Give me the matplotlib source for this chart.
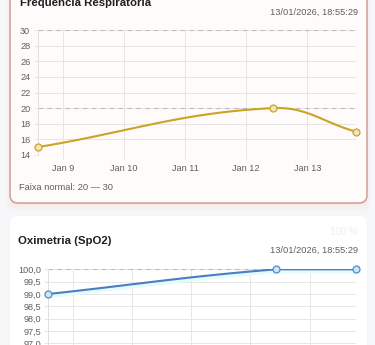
import matplotlib
matplotlib.use("Agg")
import matplotlib.pyplot as plt
import matplotlib.dates as mdates
import matplotlib.transforms as mtransforms
from matplotlib.patches import FancyBboxPatch
import numpy as np
from datetime import datetime

W, H = 375, 345

# readings (same timestamps for both cards)
times = [datetime(2026, 1, 8, 14, 5), datetime(2026, 1, 12, 10, 30), datetime(2026, 1, 13, 18, 55)]
resp_values = [15, 20, 17]
spo2_values = [99.0, 100.0, 100.0]

tick_days = [datetime(2026, 1, d) for d in range(9, 14)]
tick_labels = ["Jan 9", "Jan 10", "Jan 11", "Jan 12", "Jan 13"]
resp_yticks = [14, 16, 18, 20, 22, 24, 26, 28, 30]
spo2_yticks = [97.0, 97.5, 98.0, 98.5, 99.0, 99.5, 100.0]
resp_range = [20, 30]
spo2_ref = [100]

updated = "13/01/2026, 18:55:29"

TEXT_GRAY = "#5f5f5f"
GRID = "#e6e6e6"
FONT = "Liberation Sans"


def px_axes(fig, left, top, right, bottom):
    #convert pixel box (origin top-left) to figure fractions
    return fig.add_axes([left / W, 1 - bottom / H, (right - left) / W, (bottom - top) / H])


def chartjs_curve(ax, xs, ys, t=0.4, n=40):
    #rough copy of chart.js bezier smoothing, done in pixel space
    pts = ax.transData.transform(np.column_stack([xs, ys]))
    bb = ax.bbox
    k = len(pts)
    prev_c, next_c = [], []
    for i in range(k):
        p0 = pts[max(i - 1, 0)]
        p1 = pts[i]
        p2 = pts[min(i + 1, k - 1)]
        d01 = np.hypot(*(p1 - p0))
        d12 = np.hypot(*(p2 - p1))
        tot = d01 + d12
        s01 = d01 / tot if tot else 0
        s12 = d12 / tot if tot else 0
        c1 = p1 - t * s01 * (p2 - p0)
        c2 = p1 + t * s12 * (p2 - p0)
        c1 = np.array([np.clip(c1[0], bb.x0, bb.x1), np.clip(c1[1], bb.y0, bb.y1)])
        c2 = np.array([np.clip(c2[0], bb.x0, bb.x1), np.clip(c2[1], bb.y0, bb.y1)])
        prev_c.append(c1)
        next_c.append(c2)
    u = np.linspace(0, 1, n)[:, None]
    curve = []
    for i in range(k - 1):
        a, b, c, d = pts[i], next_c[i], prev_c[i + 1], pts[i + 1]
        seg = (1 - u) ** 3 * a + 3 * (1 - u) ** 2 * u * b + 3 * (1 - u) * u ** 2 * c + u ** 3 * d
        curve.append(seg)
    curve = np.vstack(curve)
    return ax.transData.inverted().transform(curve)


def style_chart(ax, yticks, ylabels, ylim, show_x=True):
    xnum = mdates.date2num(times)
    ax.set_xlim(xnum[0], xnum[-1])
    ax.set_ylim(*ylim)
    ax.set_yticks(yticks)
    ax.set_yticklabels(ylabels)
    ax.set_xticks(mdates.date2num(tick_days))
    ax.set_xticklabels(tick_labels)
    ax.grid(True, color=GRID, lw=0.7)
    ax.set_axisbelow(True)
    for s in ["top", "right", "bottom"]:
        ax.spines[s].set_visible(False)
    ax.spines["left"].set_color("#e0e0e0")
    ax.spines["left"].set_linewidth(0.7)
    ax.tick_params(axis="both", length=3, width=0.7, color=GRID, labelsize=6.6,
                   labelcolor=TEXT_GRAY)
    ax.tick_params(axis="x", pad=3.5, labelbottom=show_x)
    ax.tick_params(axis="y", pad=2.2)
    for lab in ax.get_xticklabels() + ax.get_yticklabels():
        lab.set_family(FONT)
    ax.patch.set_alpha(0)


fig = plt.figure(figsize=(W / 100, H / 100), dpi=100)
fig.patch.set_facecolor("#f6f7f9")

bg = fig.add_axes([0, 0, 1, 1])
bg.set_xlim(0, W)
bg.set_ylim(H, 0)
bg.axis("off")

#pink glow under the first card
for i, a in enumerate([0.10, 0.07, 0.05, 0.03]):
    bg.add_patch(FancyBboxPatch((10 - i * 1.5, -20), 357 + i * 3, 223 + 2 + i * 2.5,
                                boxstyle="round,pad=0,rounding_size=9",
                                fc="#f7b8c0", ec="none", alpha=a))
bg.add_patch(FancyBboxPatch((10, -20), 357, 223, boxstyle="round,pad=0,rounding_size=8",
                            fc="#fffbfb", ec="#cf9f92", lw=1.1))

#second card
for i, a in enumerate([0.05, 0.03]):
    bg.add_patch(FancyBboxPatch((10 - i, 216 - i), 357 + 2 * i, 200,
                                boxstyle="round,pad=0,rounding_size=9",
                                fc="#e3e6ea", ec="none", alpha=a))
bg.add_patch(FancyBboxPatch((10, 216), 357, 200, boxstyle="round,pad=0,rounding_size=8",
                            fc="white", ec="none"))

bg.text(20, 6, "Frequência Respiratória", fontsize=8.2, fontweight="bold",
        color="#1f1f1f", family=FONT, va="baseline")
bg.text(358, 12, updated, fontsize=6.7, color=TEXT_GRAY, family=FONT, ha="right", va="center")
bg.text(19, 188, f"Faixa normal: {resp_range[0]} — {resp_range[1]}", fontsize=6.7,
        color=TEXT_GRAY, family=FONT, va="center")

bg.text(18, 241, "Oximetria (SpO2)", fontsize=8.2, fontweight="bold",
        color="#1f1f1f", family=FONT, va="center")
bg.text(358, 232, "100 %", fontsize=7, color="#eceef1", family=FONT, ha="right", va="center")
bg.text(358, 250, updated, fontsize=6.7, color=TEXT_GRAY, family=FONT, ha="right", va="center")

#respiratory rate chart
ax1 = px_axes(fig, 37.5, 30, 355.5, 155)
style_chart(ax1, resp_yticks, [str(v) for v in resp_yticks], (14, 30))
for v in resp_range:
    ax1.axhline(v, color="#bcbcbc", lw=0.8, ls=(0, (4, 4)), zorder=1)
cx, cy = chartjs_curve(ax1, mdates.date2num(times), resp_values).T
ax1.plot(cx, cy, color="#c9a425", lw=1.5, zorder=3, solid_capstyle="round")
ax1.plot(mdates.date2num(times), resp_values, "o", ms=5, mfc="#f3e2b8", mec="#c9a425",
         mew=0.9, zorder=4, clip_on=False)

#spo2 chart, bottom part is cut by the screenshot
ax2 = px_axes(fig, 48.3, 269.3, 356.3, 269.3 + 5 * 24.7)
style_chart(ax2, spo2_yticks, [f"{v:.1f}".replace(".", ",") for v in spo2_yticks], (95, 100),
            show_x=False)
for v in spo2_ref:
    ax2.axhline(v, color="#bcbcbc", lw=0.8, ls=(0, (4, 4)), zorder=1)
cx, cy = chartjs_curve(ax2, mdates.date2num(times), spo2_values).T
glow = mtransforms.offset_copy(ax2.transData, fig=fig, x=0, y=-1.5, units="points")
ax2.plot(cx, cy, color="#e2fbfd", lw=3, zorder=2, transform=glow)
ax2.plot(cx, cy, color="#4a7ec0", lw=1.5, zorder=3, solid_capstyle="round")
ax2.plot(mdates.date2num(times), spo2_values, "o", ms=5, mfc="#cfe5f6", mec="#4a8ec8",
         mew=0.9, zorder=4, clip_on=False)

fig.savefig("out.png", dpi=100, facecolor=fig.get_facecolor())
